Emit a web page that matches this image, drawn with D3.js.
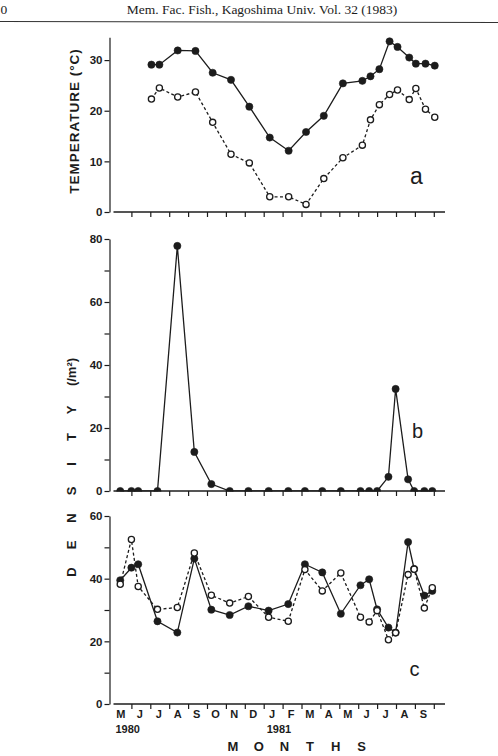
<!DOCTYPE html>
<html>
<head>
<meta charset="utf-8">
<script src="https://cdn.jsdelivr.net/npm/d3@7"></script>
<style>
body {margin: 0; background: #fff;}
svg text {font-family: "Liberation Sans", Arial, sans-serif; fill: #1c1c1c;}
.axis path, .axis line {stroke: #1c1c1c; stroke-width: 1.2; shape-rendering: auto;}
.axis text {font-size: 11.5px; font-weight: bold;}
</style>
</head>
<body>
<div id="fig"></div>
<script>
// month labels along the bottom (May 1980 .. Sep 1981)
var monthLabels = ["M","J","J","A","S","O","N","D","J","F","M","A","M","J","J","A","S"];
var yearLabels = ["1980", "1981"];
var yearStart = [0, 8]; // month index where each year label sits

// panel a: water temperature, sampling time in months since 1 May 1980
var tempMonths = [2.06, 2.48, 3.45, 4.39, 5.30, 6.27, 7.24, 8.32, 9.32, 10.24, 11.18,
                  12.19, 13.22, 13.65, 14.12, 14.66, 15.08, 15.70, 16.05, 16.56, 17.05];
var surfaceTemp = [29.1, 29.1, 31.9, 31.8, 27.5, 26.1, 20.8, 14.7, 12.1, 15.8, 19.0,
                   25.4, 25.9, 26.8, 28.2, 33.7, 32.6, 30.5, 29.3, 29.3, 28.9];
var bottomTemp = [22.3, 24.5, 22.7, 23.7, 17.7, 11.4, 9.7, 3.0, 3.0, 1.5, 6.6,
                  10.7, 13.2, 18.2, 21.2, 23.2, 24.1, 22.2, 24.4, 20.3, 18.7];

// panels b and c: density, same sampling dates
var densMonths = [0.41, 1.00, 1.36, 2.38, 3.43, 4.33, 5.23, 6.20, 7.19, 8.26, 9.30, 10.18,
                  11.10, 12.08, 13.12, 13.58, 14.00, 14.60, 14.98, 15.64, 15.96, 16.50, 16.92];
var densityB = [0, 0, 0, 0, 77.8, 12.4, 2.2, 0, 0, 0, 0, 0,
                0, 0, 0, 0, 0, 4.5, 32.4, 3.7, 0, 0, 0];
var densityC1 = [39.5, 43.5, 44.6, 26.4, 22.8, 46.4, 30.1, 28.4, 31.2, 29.8, 31.9, 44.6,
                 42.0, 28.8, 37.9, 39.8, 30.2, 24.4, 22.8, 51.7, 43.1, 34.6, 36.1];
var densityC2 = [38.2, 52.5, 37.5, 30.2, 30.8, 48.2, 34.7, 32.2, 34.3, 27.7, 26.4, 42.9,
                 36.1, 41.8, 27.7, 26.2, 29.8, 20.5, 22.7, 41.3, 43.0, 30.6, 37.1];

var tempTicks = [0, 10, 20, 30];
var densTicksB = [0, 10, 20, 30, 40, 50, 60, 70, 80];
var densTicksC = [0, 10, 20, 30, 40, 50, 60];

var W = 498, H = 756;
var svg = d3.select("#fig").append("svg")
  .attr("width", W).attr("height", H);

// journal header
svg.append("text")
  .attr("x", 262).attr("y", 14)
  .attr("text-anchor", "middle")
  .style("font-family", "'Liberation Serif', 'DejaVu Serif', serif")
  .style("font-size", "13.5px")
  .text("Mem. Fac. Fish., Kagoshima Univ. Vol. 32 (1983)");
svg.append("text")
  .attr("x", 0.5).attr("y", 14)
  .style("font-family", "'Liberation Serif', 'DejaVu Serif', serif")
  .style("font-size", "13.5px")
  .text("0");
svg.append("line")
  .attr("x1", 0).attr("x2", W).attr("y1", 21.5).attr("y2", 22.5)
  .attr("stroke", "#333").attr("stroke-width", 1.1);

var axisX = 109.5;
var x = d3.scaleLinear().domain([0, 17]).range([112.5, 433.8]);

function panel(y, ticks, every, letter, letterPos) {
  var g = svg.append("g");

  g.append("g")
    .attr("class", "axis")
    .attr("transform", "translate(" + axisX + ",0)")
    .call(d3.axisLeft(y)
      .tickValues(ticks)
      .tickSize(5)
      .tickSizeOuter(0)
      .tickPadding(2)
      .tickFormat(function(d) { return d % every == 0 ? d : ""; }));

  var y0 = y(0);
  g.append("g")
    .attr("class", "axis")
    .attr("transform", "translate(0," + y0 + ")")
    .call(d3.axisBottom(x)
      .tickValues(d3.range(1, 18))
      .tickSize(5)
      .tickFormat(""))
    .select(".domain").remove();
  g.append("line")
    .attr("x1", axisX + 4).attr("x2", 445)
    .attr("y1", y0).attr("y2", y0)
    .attr("stroke", "#1c1c1c").attr("stroke-width", 1.3);

  g.append("text")
    .attr("x", letterPos[0]).attr("y", letterPos[1])
    .style("font-size", letterPos[2] + "px")
    .text(letter);
  return g;
}

function series(g, months, values, y, filled) {
  var pts = months.map(function(m, i) { return [m, values[i]]; });
  var line = d3.line()
    .x(function(d) { return x(d[0]); })
    .y(function(d) { return y(d[1]); });
  g.append("path")
    .datum(pts)
    .attr("fill", "none")
    .attr("stroke", "#1c1c1c")
    .attr("stroke-width", 1.3)
    .attr("stroke-dasharray", filled ? null : "3,2.4")
    .attr("d", line);
  g.selectAll(null).data(pts)
    .enter().append("circle")
    .attr("cx", function(d) { return x(d[0]); })
    .attr("cy", function(d) { return y(d[1]); })
    .attr("r", filled ? 3.6 : 3.1)
    .attr("fill", filled ? "#1c1c1c" : "#fff")
    .attr("stroke", "#1c1c1c")
    .attr("stroke-width", filled ? 0.6 : 1.3);
}

// panel a
var yA = d3.scaleLinear().domain([0, 34.5]).range([212, 37.3]);
var gA = panel(yA, tempTicks, 10, "a", [410, 184, 23]);
series(gA, tempMonths, surfaceTemp, yA, true);
series(gA, tempMonths, bottomTemp, yA, false);

// panel b (points at zero sit on the axis as half dots)
var yB = d3.scaleLinear().domain([0, 80]).range([491, 239]);
var gB = panel(yB, densTicksB, 20, "b", [412, 438, 20]);
svg.append("clipPath").attr("id", "clipB")
  .append("rect").attr("x", axisX).attr("y", 230)
  .attr("width", 350).attr("height", yB(0) - 230 + 0.5);
var gBdata = gB.append("g").attr("clip-path", "url(#clipB)");
series(gBdata, densMonths, densityB, yB, true);

// panel c
var yC = d3.scaleLinear().domain([0, 60]).range([704, 516]);
var gC = panel(yC, densTicksC, 20, "c", [409.5, 676, 20]);
series(gC, densMonths, densityC1, yC, true);
series(gC, densMonths, densityC2, yC, false);

// month + year labels
svg.selectAll(".mlabel").data(monthLabels)
  .enter().append("text")
  .attr("class", "mlabel")
  .attr("x", function(d, i) { return x(i + 0.5) - 1; })
  .attr("y", 718)
  .attr("text-anchor", "middle")
  .style("font-size", "11px")
  .style("font-weight", "bold")
  .text(function(d) { return d; });
svg.selectAll(".ylabel").data(yearLabels)
  .enter().append("text")
  .attr("class", "ylabel")
  .attr("x", function(d, i) { return x(yearStart[i]) + 3; })
  .attr("y", 733)
  .style("font-size", "11px")
  .style("font-weight", "bold")
  .text(function(d) { return d; });

svg.selectAll(".xtitle").data("MONTHS".split(""))
  .enter().append("text")
  .attr("class", "xtitle")
  .attr("x", function(d, i) { return 233 + i * 25.7; })
  .attr("y", 751)
  .attr("text-anchor", "middle")
  .style("font-size", "13px")
  .style("font-weight", "bold")
  .text(function(d) { return d; });

// y titles
svg.append("text")
  .attr("transform", "translate(79,121) rotate(-90)")
  .attr("text-anchor", "middle")
  .style("font-size", "13.5px")
  .style("font-weight", "bold")
  .style("letter-spacing", "1px")
  .text("TEMPERATURE (°C)");

var dens = svg.append("g").attr("transform", "translate(76,0) rotate(-90)");
dens.selectAll(".dl").data("DENSITY".split(""))
  .enter().append("text")
  .attr("class", "dl")
  .attr("x", function(d, i) { return -(572 - i * 27); })
  .attr("y", 0)
  .attr("text-anchor", "middle")
  .style("font-size", "13px")
  .style("font-weight", "bold")
  .text(function(d) { return d; });
dens.append("text")
  .attr("x", -372).attr("y", 0)
  .attr("text-anchor", "middle")
  .style("font-size", "13px")
  .style("font-weight", "bold")
  .text("(/m²)");
</script>
</body>
</html>
